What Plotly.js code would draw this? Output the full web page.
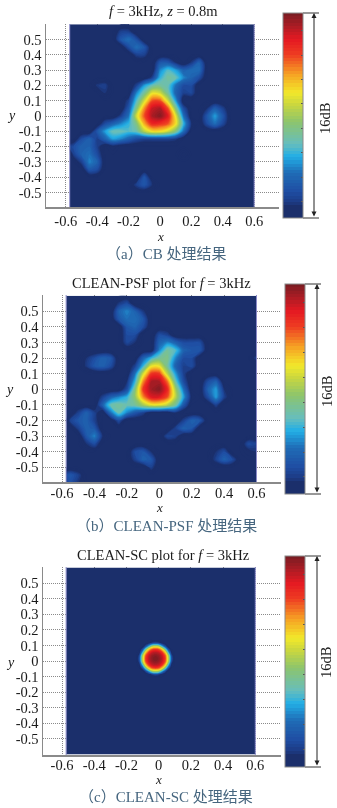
<!DOCTYPE html>
<html>
<head>
<meta charset="utf-8">
<script src="https://cdn.plot.ly/plotly-3.0.1.min.js"></script>
<style>html,body{margin:0;padding:0;background:#fff}#chart{width:337px;height:808px;filter:blur(0.4px)}</style>
</head>
<body>
<div id="chart"></div>
<script>
const xGrid = [-0.575,-0.55,-0.5,-0.45,-0.4,-0.35,-0.3,-0.25,-0.2,-0.15,-0.1,-0.05,0,0.05,0.1,0.15,0.2,0.25,0.3,0.35,0.4,0.45,0.5,0.55,0.6];
const yGrid = [0.6,0.55,0.5,0.45,0.4,0.35,0.3,0.25,0.2,0.15,0.1,0.05,0,-0.05,-0.1,-0.15,-0.2,-0.25,-0.3,-0.35,-0.4,-0.45,-0.5,-0.55,-0.6];

const levelsCB = [
[0,0,0,0,0,0,0,0,0,0,0,0,0,0,0,0,0,0,0,0,0,0,0,0,0],
[0,0,0,0,0,0,0,1.5,1.5,0,0,0,0,0,0,0,0,0,0,0,0,0,0,0,0],
[0,0,0,0,0,0,0,2.5,3.5,2.2,0,0,0,0,0,0,0,0,0,0,0,0,0,0,0],
[0,0,0,0,0,0,0,0,2,3.5,2.5,0,0,0,0,0,0,0,0,0,0,0,0,0,0],
[0,0,0,0,0,0,0,0,0,1.5,1.5,0,0,0,0,0,0,0,0,0,0,0,0,0,0],
[0,0,0,0,0,0,0,0,0,0,0,0,2.5,2.5,1,0,1.2,3,0,0,0,0,0,0,0],
[0,0,0,0,0,0,0,0,0,0,0,0,4,5.5,4.5,3,3.5,3.5,0,0,0,0,0,0,0],
[0,0,0,0,0,0,0,0,0,0,0,1.5,5,6.5,6,4,3,2,0,0,0,0,0,0,0],
[0,0,0,0,1.2,1.5,0,0,0,1.5,4.5,6,6.5,6,3.5,2,2,0,0,0,0,0,0,0,0],
[0,0,0,0,0,1,0,0,0,4,6.5,9.5,9,6.5,3,1.5,1.8,0,0,0,0,0,0,0,0],
[0,0,0,0,0,0,0,0,1.5,5.5,9,12.5,12.5,9,4.5,0,0,0,0,0,0,0,0,0,0],
[0,0,0,0,0,0,0,0,2.5,7,11.5,14.5,15,12.5,7,2,0,0,1,2.8,1.5,0,0,0,0],
[0,0,0,0,0,0,0,1.5,3.5,9,12.5,15,15.8,14,9.5,3.5,0,0,2.5,4.5,2.5,0,0,0,0],
[0,0,0,0,0,2,3,4,5,7,11,13.5,13.2,12.5,10,5,1,0,2,3.5,1.8,0,0,0,0],
[0,0,0,0,2.5,4.5,6,6,5.5,6,8.5,10,10,9,7,3.5,0,0,0,0,0,0,0,0,0],
[0,0,2,3,1.5,3,4.5,4,3,2,1.5,1.5,1.5,1.5,1.2,0,0,0,0,0,0,0,0,0,0],
[1.5,2,3,3,1.5,0,0.5,0,0,0,0,0,0,0,0,0,0,0,0,0,0,0,0,0,0],
[0,1.5,3,3.5,2,0,0,0,0,0,0,0,0,0,0,1,0,0,0,0,0,0,0,0,0],
[0,0,1.5,4,3,0,0,0,0,0,0,0,0,0,0,0,0,0,0,0,0,0,0,0,0],
[0,0,0,2.5,2,0,0,0,0,0,0,0,0,0,0,0,0,0,0,0,0,0,0,0,0],
[0,0,0,0,0,0,0,0,0,0,2.5,0,0,0,0,0,0,0,0,0,0,0,0,0,0],
[0,0,0,0,0,0,0,0,0,1.5,2.5,1,0,0,0,0,0,0,0,0,0,0,0,0,0],
[0,0,0,0,0,0,0,0,0,0,0,0,0,0,0,0,0,0,0,0,0,0,0,0,0],
[0,0,0,0,0,0,0,0,0,0,0,0,0,0,0,0,0,0,0,0,0,0,0,0,0],
[0,0,0,0,0,0,0,0,0,0,0,0,0,0,0,0,0,0,0,0,0,0,0,0,0]
];

const levelsPSF = [
[0,0,0,0,0,0,0,0,0,0,0,0,0,0,0,0,0,0,0,0,0,0,0,0,0],
[0,0,0,0,0,0,0,1.2,2,0,0,0,0,0,0,0,0,0,0,0,0,0,0,0,0],
[0,0,0,0,0,0,0,3,4,3,1.2,0,0,0,0,0,0,0,0,0,0,0,0,0,0],
[0,0,0,0,0,0,0,2.5,3.5,3.5,2.5,0,0,0,0,0,0,0,0,0,0,0,0,0,0],
[0,0,0,0,0,0,0,0,2.5,3,2,0,0,0,0,0,0,0,0,0,0,0,0,0,0],
[0,0,0,0,0,0,0,0,2,2,0,0,2,1.5,0,0,0,0,0,0,0,0,0,0,0],
[0,0,0,0,0,0,0,0,1.8,1,0,0,3,4,3,2,2,2,0,0,0,0,0,0,0],
[0,0,0,0,0,0,0,0,0,0,0,0,4,6.5,5.5,3,2.5,2.5,0,0,0,0,0,0,0],
[0,0,0,1,2,3,2.5,0,0,0,3,5,6.5,7,4,2,2,0,0,0,0,0,0,0,1.5],
[0,0,0,1.2,2.5,3,2,0,0,1.5,5,9.5,9.5,6.5,3,1.5,2,0,0,0,0,0,0,0,0],
[0,0,0,0,0,0,0,0,0,3.5,9,13,13,8.5,4.5,1.5,0,0,0,0,0,0,0,0,0],
[0,0,0,0,0,0,0,0,1,5,11.5,15,15,12,6,2,0,0,2,3,0,0,0,0,0],
[0,0,0,0,0,0,0,0,2,7,13,15.2,15.8,13.5,8,3.5,0,0,3,4.5,1,0,0,0,0],
[0,0,0,0,0,1.5,3,4,5,7.5,11.5,14,14,12.5,8.5,4.5,0.5,0,2,4.5,1.5,0,0,0,0],
[0,0,0,0,0,3,6,6.5,6,6.5,8,9.5,9.5,8.5,6.5,2.5,0,0,0,1.5,0,0,0,0,0],
[0,0,1.5,3,1.5,0,3.5,6,4,2.5,1.5,0,0,0,1,0,0,0,0,0,0,0,0,0,0],
[0,1.5,2.5,3,1.5,0,0,2,0,0,0,0,0,0,0,1.5,3,2.5,0,0,0,0,0,0,0],
[0,0,1.5,3,2.5,0,0,0,0,0,0,0,0,0,1.5,3,2.5,0,0,0,0,0,0,0,0],
[0,0,0,2.5,4,1,0,0,0,0,0,0,0,1.8,1.5,0,0,0,0,0,0,0,0,0,0],
[0,0,0,1,2,0,0,0,0,0,0,0,0,0,0,0,0,0,0,0,0,0,0,2,1.5],
[0,0,0,0,0,0,0,0,0,2,2.5,1,0,0,0,0,0,0,0,1,2,0,0,0.5,1],
[0,0,0,0,0,0,0,0,0,1.5,3,2.5,0,0,0,0,0,0,0,1.5,3,2,0,0,0],
[0,0,0,0,0,0,0,0,0,0,0,1.5,0,0,0,0,0,0,0,0,0,0,0,0,0],
[2,2.5,1.5,0,0,0,0,0,0,0,0,0,0,0,0,0,0,0,0,0,0,0,0,0,0],
[1.8,2,1,0,0,0,0,0,0,0,0,0,0,0,0,0,0,0,0,0,0,0,0,0,0]
];

const xGridSC = [-0.575,-0.14,-0.12,-0.10,-0.08,-0.06,-0.04,-0.02,0,0.02,0.04,0.06,0.08,0.10,0.6];
const yGridSC = [0.6,0.135,0.115,0.095,0.075,0.055,0.035,0.015,-0.005,-0.025,-0.045,-0.065,-0.085,-0.105,-0.6];
const levelsSC = [
[0,0,0,0,0,0,0,0,0,0,0,0,0,0,0],
[0,0,0,0,0,0,0,0,0,0,0,0,0,0,0],
[0,0,0,0,0,0.5,1.5,2,1.5,0.5,0,0,0,0,0],
[0,0,0,0,2,5,8,8.5,8,5,2,0,0,0,0],
[0,0,0,2,6.5,10.5,12.5,13,12.5,10.5,6.5,2,0,0,0],
[0,0,0.5,5,10.5,13.3,14.5,14.8,14.5,13.3,10.5,5,0.5,0,0],
[0,0,1.5,8,12.5,14.5,15.4,15.7,15.4,14.5,12.5,8,1.5,0,0],
[0,0,2,8.5,13,14.8,15.7,16,15.7,14.8,13,8.5,2,0,0],
[0,0,1.5,8,12.5,14.5,15.4,15.7,15.4,14.5,12.5,8,1.5,0,0],
[0,0,0.5,5,10.5,13.3,14.5,14.8,14.5,13.3,10.5,5,0.5,0,0],
[0,0,0,2,6.5,10.5,12.5,13,12.5,10.5,6.5,2,0,0,0],
[0,0,0,0,2,5,8,8.5,8,5,2,0,0,0,0],
[0,0,0,0,0,0.5,1.5,2,1.5,0.5,0,0,0,0,0],
[0,0,0,0,0,0,0,0,0,0,0,0,0,0,0],
[0,0,0,0,0,0,0,0,0,0,0,0,0,0,0]
];

const yTicks = [-0.5,-0.4,-0.3,-0.2,-0.1,0,0.1,0.2,0.3,0.4,0.5,0.6];
const yTickText = ['-0.5','-0.4','-0.3','-0.2','-0.1','0','0.1','0.2','0.3','0.4','0.5',''];
const xTicks = [-0.6,-0.4,-0.2,0,0.2,0.4,0.6];
const xTickText = ['-0.6','-0.4','-0.2','0','0.2','0.4','0.6'];
const titles = ['<i>f</i> = 3kHz, <i>z</i> = 0.8m','CLEAN-PSF plot for <i>f</i> = 3kHz','CLEAN-SC plot for <i>f</i> = 3kHz'];
const captions = ['（a）CB 处理结果','（b）CLEAN-PSF 处理结果','（c）CLEAN-SC 处理结果'];
const rangeLabel = '16dB';

const W = 337, H = 808;
const SERIF = '"Liberation Serif","Times New Roman",serif';
const CAPTION_FONT = '"Liberation Serif","Noto Sans CJK SC",serif';
const jet = [[0,'#1b2f6b'],[0.06,'#1b2f6b'],[0.075,'#1c3a84'],[0.13,'#1f4ea3'],[0.22,'#1f6cb6'],[0.3,'#22aee6'],[0.36,'#66bdbd'],[0.47,'#8dc56c'],[0.55,'#c8d640'],[0.61,'#f2e92a'],[0.7,'#f6a224'],[0.8,'#ee3a22'],[0.87,'#e51a22'],[0.94,'#a81c24'],[1,'#7a1c22']];

const panels = [
  {z:levelsCB, x:xGrid, y:yGrid, l:46, r:279, t:24, b:207, x0:160, sx:157, y0:116, sy:153, standoff:0, barL:283, barR:303, barT:13, barB:218, arrowX:314, labelX:325, labelY:119, titleY:11, titleX:163, xlabY:236, ylabX:11, ylabY:115, capY:254, capX:166},
  {z:levelsPSF, x:xGrid, y:yGrid, l:43, r:281, t:295, b:482, x0:159.3, sx:162, y0:389.3, sy:156, standoff:-3, barL:285, barR:305, barT:284, barB:494, arrowX:317, labelX:327, labelY:392, titleY:283, titleX:161, xlabY:507, ylabX:9, ylabY:389, capY:526, capX:166},
  {z:levelsSC, x:xGridSC, y:yGridSC, l:43, r:281, t:567, b:755, x0:158.7, sx:161, y0:661, sy:155.7, standoff:-4, barL:285, barR:305, barT:556, barB:767, arrowX:317, labelX:326, labelY:663, titleY:555, titleX:163, xlabY:779, ylabX:10, ylabY:662, capY:797, capX:166}
];

const px = v => v / W, py = v => 1 - v / H;
const traces = [], shapes = [], annotations = [];
const layout = {width:W, height:H, margin:{l:0,r:0,t:0,b:0}, paper_bgcolor:'#fff', plot_bgcolor:'#fff', showlegend:false, font:{family:SERIF,size:14,color:'#1a1a1a'}};

panels.forEach((p,i) => {
  const n = i === 0 ? '' : String(i+1);
  const xa = 'xaxis'+n, ya = 'yaxis'+n;
  layout[xa] = {domain:[px(p.l),px(p.r)], range:[(p.l-p.x0)/p.sx,(p.r-p.x0)/p.sx], anchor:'y'+n,
    tickmode:'array', tickvals:xTicks, ticktext:xTickText, ticks:'', ticklabelstandoff:p.standoff, showline:true, linecolor:'#8a8a8a', linewidth:1.5,
    showgrid:true, gridcolor:'#8a8a8a', griddash:'1px,1px', gridwidth:1, zeroline:false, tickfont:{family:SERIF,size:14.5,color:'#1a1a1a'}};
  layout[ya] = {domain:[py(p.b),py(p.t)], range:[(p.y0-p.b)/p.sy,(p.y0-p.t)/p.sy], anchor:'x'+n,
    tickmode:'array', tickvals:yTicks, ticktext:yTickText, ticks:'', showline:true, linecolor:'#8a8a8a', linewidth:1.5,
    showgrid:true, gridcolor:'#8a8a8a', griddash:'1px,1px', gridwidth:1, zeroline:false, tickfont:{family:SERIF,size:14.5,color:'#1a1a1a'}};
  traces.push({type:'contour', x:p.x, y:p.y, z:p.z, xaxis:'x'+n, yaxis:'y'+n, zmin:0, zmax:16, zauto:false, autocontour:false,
    contours:{start:0, end:16, size:0.25, coloring:'fill', showlines:false}, line:{width:0, smoothing:1}, colorscale:jet, hoverinfo:'skip',
    colorbar:{x:px(p.barL), xanchor:'left', xpad:0, ypad:0, y:py(p.barT), yanchor:'top', lenmode:'pixels', len:p.barB-p.barT, thicknessmode:'pixels', thickness:p.barR-p.barL,
      outlinecolor:'#8a8a8a', outlinewidth:1, borderwidth:0, ticks:'inside', ticklen:2, tickcolor:'#555', tickmode:'array', tickvals:[1.3,3.2,5.1,7,8.9,10.8,12.7,14.6], showticklabels:false}});
  [-0.575,0.6].forEach(v => shapes.push({type:'line', xref:'x'+n, yref:'paper', x0:v, x1:v, y0:py(p.b), y1:py(p.t), line:{color:'#8b8bc8',width:1}}));
  [p.barT,p.barB].forEach(v => shapes.push({type:'line', xref:'paper', yref:'paper', x0:px(p.barR), x1:px(p.barR+16), y0:py(v), y1:py(v), line:{color:'#333',width:1}}));
  annotations.push({xref:'paper', yref:'paper', axref:'pixel', ayref:'pixel', x:px(p.arrowX), y:py(p.barT), ax:0, ay:p.barB-p.barT, text:'', showarrow:true, arrowhead:2, startarrowhead:2, arrowside:'end+start', arrowsize:1, arrowwidth:1, arrowcolor:'#222'});
  const txt = (text,x,y,extra) => annotations.push(Object.assign({xref:'paper', yref:'paper', x:px(x), y:py(y), xanchor:'center', yanchor:'middle', showarrow:false, text}, extra||{}));
  txt(rangeLabel, p.labelX, p.labelY, {textangle:-90, font:{family:SERIF,size:14.5,color:'#1a1a1a'}});
  txt(titles[i], p.titleX, p.titleY, {font:{family:SERIF,size:14.5,color:'#1a1a1a'}});
  txt('<i>x</i>', p.x0, p.xlabY, {font:{family:SERIF,size:13,color:'#1a1a1a'}});
  txt('<i>y</i>', p.ylabX, p.ylabY, {font:{family:SERIF,size:14,color:'#1a1a1a'}});
  txt(captions[i], p.capX, p.capY, {font:{family:CAPTION_FONT,size:15,color:'#46667f'}});
});
layout.shapes = shapes;
layout.annotations = annotations;
Plotly.newPlot('chart', traces, layout, {displayModeBar:false, staticPlot:true});
</script>
</body>
</html>
